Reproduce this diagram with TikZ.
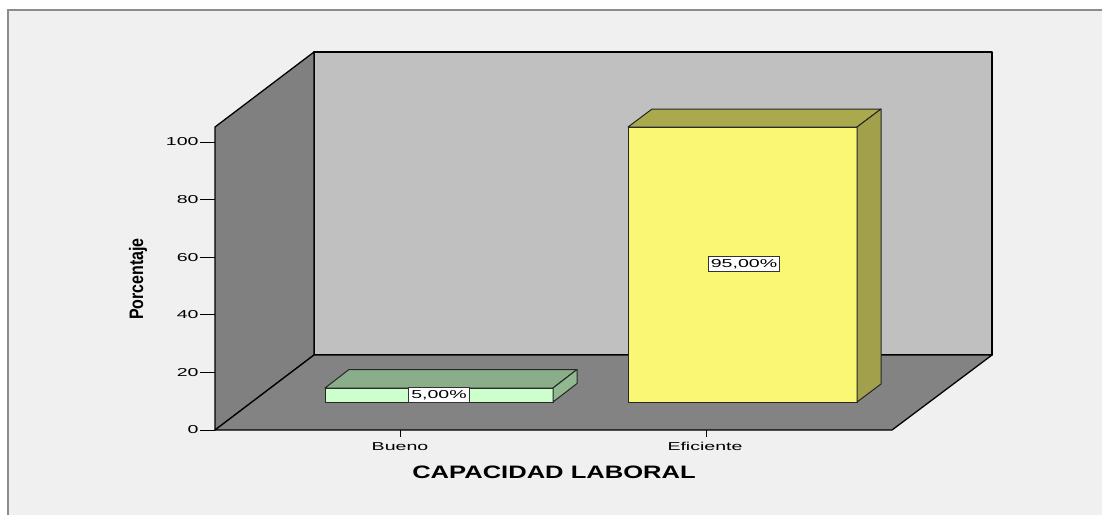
\documentclass[tikz,border=0pt]{standalone}
\usepackage{fontspec}
\setmainfont{Liberation Sans}
\newfontfamily\chartfont[FakeStretch=1.7]{Liberation Sans}
\newfontfamily\titlefont[FakeStretch=1.42]{Liberation Sans}
\usepackage{tikz}
\usetikzlibrary{positioning}

\definecolor{panel}{HTML}{F0F0F0}
\definecolor{frameline}{HTML}{8C8C8C}
\definecolor{sidewall}{HTML}{808080}
\definecolor{backwall}{HTML}{C0C0C0}
\definecolor{floorgray}{HTML}{838383}
\definecolor{buenofront}{HTML}{CCFFCC}
\definecolor{buenotop}{HTML}{8AAE8A}
\definecolor{buenoside}{HTML}{92B892}
\definecolor{eficfront}{HTML}{F9F773}
\definecolor{efictop}{HTML}{ABA94E}
\definecolor{eficside}{HTML}{A3A04C}

\tikzset{
  wall/.style={draw=black, line width=1.3pt, line join=round},
  barface/.style={draw=black!85, line width=1pt, line join=round},
  ticklabel/.style={font=\chartfont\fontsize{11.5}{12}\selectfont, inner sep=1pt},
  valuebox/.style={draw=black!80, fill=white, line width=1pt, inner xsep=2.5pt, inner ysep=3pt,
    font=\chartfont\fontsize{11.5}{12}\selectfont}
}

\begin{document}
\begin{tikzpicture}[x=1pt, y=-1pt]
        \useasboundingbox (0,0) rectangle (1102,515);
        \fill[white] (0,0) rectangle (1102,515);
        \fill[panel] (8,10) rectangle (1102,515);
        \draw[frameline, line width=2pt] (8,515) -- (8,10) -- (1102,10);

        \coordinate (F0) at (215,430);
        \coordinate (FT) at (215,127);
        \coordinate (B0) at (314,355);
        \coordinate (BT) at (314,52);
        \coordinate (BR) at (992,355);
        \coordinate (BRT) at (992,52);
        \coordinate (FR) at (892,430);
        \filldraw[wall, fill=backwall] (B0) -- (BT) -- (BRT) -- (BR) -- cycle;
        \filldraw[wall, fill=sidewall] (F0) -- (FT) -- (BT) -- (B0) -- cycle;
        \filldraw[wall, fill=floorgray] (F0) -- (B0) -- (BR) -- (FR) -- cycle;

        \foreach \v in {0,20,...,100}
            \draw[line width=1pt] (215,{430-2.88*\v}) -- (200,{430-2.88*\v}) node[ticklabel, anchor=east] (tick\v) {\v};

        \filldraw[barface, fill=buenofront] (325,388) rectangle (553,402);
        \filldraw[barface, fill=buenotop] (325,388) -- (349,369.5) -- (577,369.5) -- (553,388) -- cycle;
        \filldraw[barface, fill=buenoside] (553,402) -- (577,383.5) -- (577,369.5) -- (553,388) -- cycle;
        \node[valuebox] (bueno) at (439,395) {5,00\%};

        \filldraw[barface, fill=eficfront] (628,127) rectangle (857,402);
        \filldraw[barface, fill=efictop] (628,127) -- (652,109) -- (881,109) -- (857,127) -- cycle;
        \filldraw[barface, fill=eficside] (857,402) -- (881,384) -- (881,109) -- (857,127) -- cycle;
        \node[valuebox] (eficiente) at (744,264) {95,00\%};

        \draw[line width=1pt] (400,430) -- (400,437);
        \draw[line width=1pt] (706,430) -- (706,437);
        \node[ticklabel, anchor=base] (catbueno) at (400,450) {Bueno};
        \node[ticklabel, anchor=base] (cateficiente) at (705,450) {Eficiente};

        \node[anchor=base, inner sep=0pt, font=\titlefont\bfseries\fontsize{18}{20}\selectfont] (xtitle) at (554,478) {CAPACIDAD LABORAL};
        \node[rotate=90, anchor=base, inner sep=0pt] (ytitle) at (143,279)
            {\scalebox{0.82}[1]{\fontsize{19.5}{21}\selectfont\bfseries Porcentaje}};
    \end{tikzpicture}
\end{document}
